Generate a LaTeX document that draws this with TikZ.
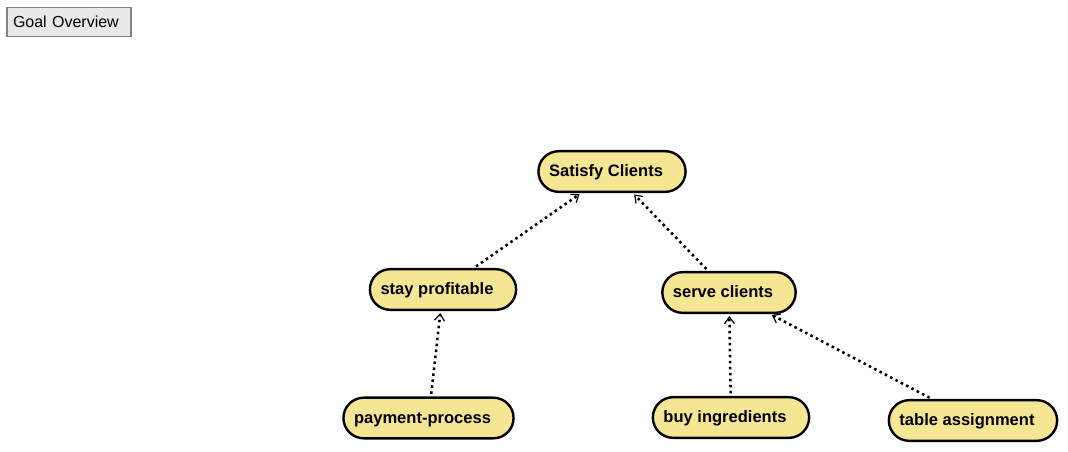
\documentclass[tikz,border=0pt]{standalone}
\usepackage{fontspec}
\setmainfont{Liberation Sans}
\usetikzlibrary{arrows.meta,shapes.misc}

\definecolor{goalfill}{RGB}{245,230,148}
\definecolor{btnfill}{RGB}{233,233,233}
\definecolor{btnline}{RGB}{130,130,130}

\tikzset{
  goal/.style={rounded rectangle,draw=black,fill=goalfill,line width=1.8pt,
    minimum height=30.5pt,inner xsep=6.5pt,text height=10.5pt,text depth=2.5pt,
    execute at end node={\hspace*{9pt}},
    font=\fontsize{12.4}{14}\selectfont\bfseries},
  btn/.style={rectangle,draw=btnline,fill=btnfill,line width=0.8pt,
    text width=84pt,align=left,inner xsep=4.5pt,minimum height=21.5pt,
    font=\fontsize{12}{14}\selectfont},
  contrib/.style={line width=1.9pt,dash pattern=on 1.9pt off 2.6pt,
    shorten <=2pt,shorten >=1.5pt,
    -{Straight Barb[length=5pt,width=7.5pt,line width=0.9pt,line cap=butt]}}
}

\begin{document}
\begin{tikzpicture}[x=0.75pt,y=-0.75pt]
      \useasboundingbox (0,0) rectangle (1068,451);

      \node[btn] (overview) at (69,22) {Goal Overview};

      % goals
      \node[goal] (satisfy) at (612,171.5) {Satisfy Clients};
      \node[goal] (profit) at (443,289.5) {stay profitable};
      \node[goal] (serve) at (729,292.5) {serve clients};
      \node[goal] (payment) at (428.5,418) {payment-process};
      \node[goal] (buy) at (731,417.5) {buy ingredients};
      \node[goal] (table) at (973,420.5) {table assignment};

      % contributions
      \draw[contrib] (profit) -- (satisfy);
      \draw[contrib] (serve) -- (satisfy);
      \draw[contrib] (payment) -- (profit);
      \draw[contrib] (buy) -- (serve);
      \draw[contrib] (table) -- (serve);

\end{tikzpicture}
\end{document}
